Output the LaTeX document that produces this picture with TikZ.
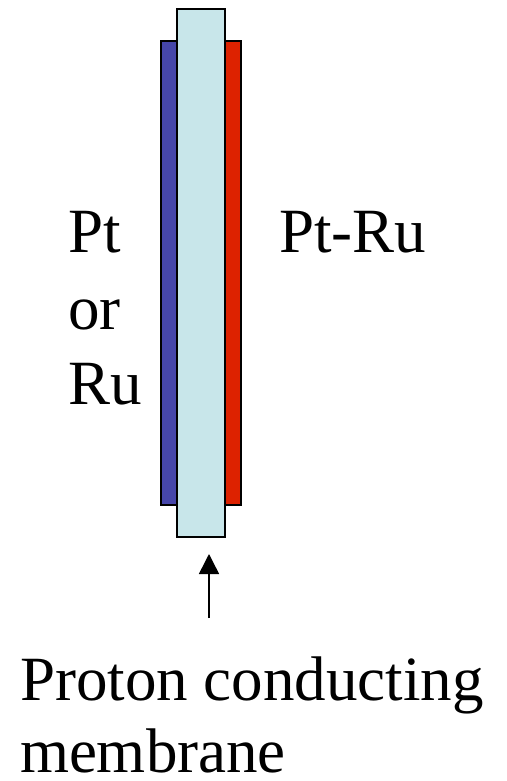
\documentclass[tikz,border=0pt]{standalone}
\usepackage{fontspec}
\setmainfont{Liberation Serif}
\usetikzlibrary{arrows.meta}
\definecolor{mblue}{RGB}{70,70,170}
\definecolor{mred}{RGB}{221,34,0}
\definecolor{mcyan}{RGB}{200,230,234}
\begin{document}
\begin{tikzpicture}[x=1pt,y=-1pt,
  layer/.style={draw=black,line width=1.6pt,inner sep=0pt,outer sep=0pt,anchor=north west},
  lbl/.style={inner sep=0pt,outer sep=0pt,anchor=base west,font=\fontsize{63}{76}\selectfont}]
\useasboundingbox (0,0) rectangle (506,781);
\node[layer,fill=mblue,minimum width=32pt,minimum height=464pt] (blue) at (161,41) {};
\node[layer,fill=mred,minimum width=32pt,minimum height=464pt] (red) at (209,41) {};
\node[layer,fill=mcyan,minimum width=48pt,minimum height=528pt] (membrane) at (177,9) {};
\node[lbl] (pt) at (68,252) {Pt};
\node[lbl] (or) at (68,329) {or};
\node[lbl] (ru) at (68,404) {Ru};
\node[lbl] (ptru) at (279,252) {Pt-Ru};
\node[lbl] (proton) at (20,700) {Proton conducting};
\node[lbl,text depth=0pt] (memb) at (20,772) {membrane};
\coordinate (arrowbase) at (209,618);
\draw[line width=1.5pt,-{Triangle[width=20pt,length=20pt]}] (arrowbase) -- ([xshift=8pt,yshift=-17pt]membrane.south);
\end{tikzpicture}
\end{document}
